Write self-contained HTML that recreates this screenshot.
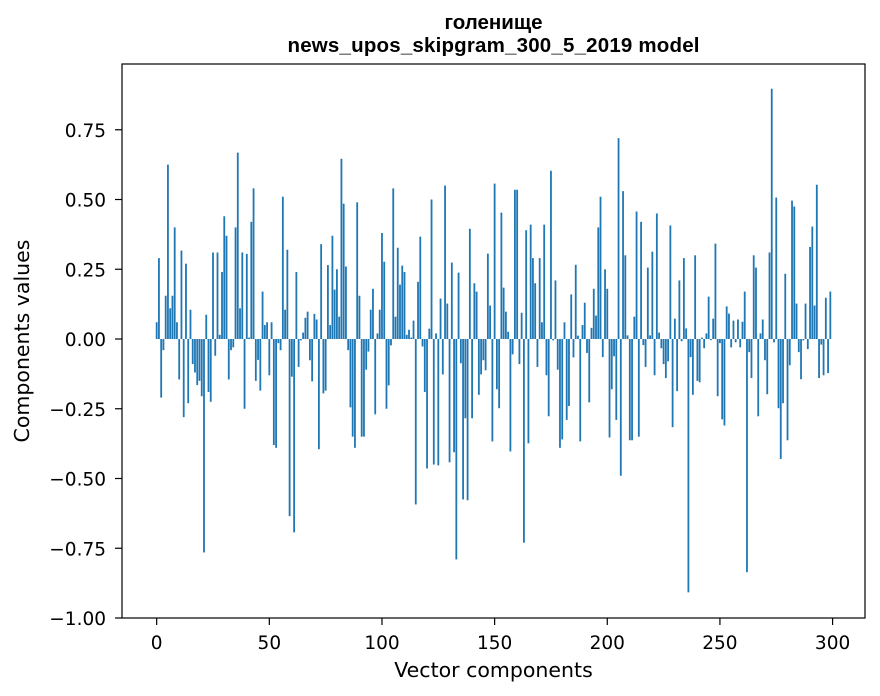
<!DOCTYPE html>
<html><head><meta charset="utf-8"><style>
html,body{margin:0;padding:0;background:#fff;}
svg{display:block;font-family:"DejaVu Sans","Liberation Sans",sans-serif;}
</style></head><body>
<svg id="chart" width="880" height="696" viewBox="0 0 880 696">
<rect x="0" y="0" width="880" height="696" fill="#fff"/>
<text x="493.5" y="29" text-anchor="middle" font-size="20.5" font-weight="bold" style="font-family:'Liberation Sans',sans-serif">голенище</text>
<text x="493.5" y="52" text-anchor="middle" font-size="20.5" font-weight="bold" style="font-family:'Liberation Sans',sans-serif" textLength="412">news_upos_skipgram_300_5_2019 model</text>
<g id="bars"></g>
<g id="xticks"></g>
<g id="yticks"></g>
<rect x="122" y="64" width="743" height="554" fill="none" stroke="#000" stroke-width="1.2"/>
<text x="493.5" y="677" text-anchor="middle" font-size="20.5">Vector components</text>
<text transform="translate(29,341) rotate(-90)" text-anchor="middle" font-size="20.5">Components values</text>
</svg>
<script>
const values = [
0.06,0.29,-0.21,-0.04,0.155,0.625,0.11,0.155,0.40,0.06,
-0.145,0.317,-0.28,0.27,-0.23,0.105,-0.09,-0.12,-0.165,-0.15,
-0.205,-0.765,0.087,-0.19,-0.225,0.31,-0.06,0.31,0.015,0.24,
0.44,0.37,-0.145,-0.04,-0.03,0.40,0.668,0.11,0.31,-0.25,
0.305,0.005,0.42,0.54,-0.15,-0.075,-0.185,0.17,0.05,0.06,
-0.13,0.06,-0.38,-0.39,-0.015,-0.04,0.51,0.105,0.32,-0.635,
-0.135,-0.693,0.24,-0.1,-0.005,0.023,0.076,0.098,-0.076,-0.152,
0.09,0.07,-0.395,0.34,-0.195,-0.185,0.265,0.05,0.37,0.177,
0.25,0.08,0.646,0.485,0.26,-0.04,-0.245,-0.35,-0.39,0.49,
0.155,-0.35,-0.35,-0.11,-0.045,0.105,0.18,-0.27,0.02,0.105,
0.38,0.277,-0.25,-0.166,-0.023,0.54,0.08,0.327,0.195,0.263,
0.24,0.015,0.033,0.005,0.066,-0.593,0.205,0.367,-0.027,-0.19,
-0.464,0.037,0.5,-0.45,0.02,-0.453,0.145,-0.127,0.55,0.127,
-0.442,0.274,-0.406,-0.79,0.238,-0.087,-0.575,-0.284,-0.578,0.395,
-0.284,0.2,0.17,-0.2,-0.127,-0.076,-0.112,0.306,0.12,-0.367,
0.557,-0.18,-0.248,0.453,0.184,0.098,0.026,-0.403,-0.055,0.535,
0.535,-0.09,0.094,-0.73,0.39,-0.374,0.41,0.29,0.2,-0.1,
0.29,0.06,0.41,-0.13,-0.277,0.603,-0.005,0.21,-0.11,-0.39,
-0.36,0.06,-0.29,-0.24,0.16,-0.066,0.266,0.012,-0.367,0.05,
0.13,-0.05,-0.227,0.04,0.18,0.084,0.4,0.51,-0.065,0.25,
0.18,-0.353,-0.18,-0.062,-0.29,0.72,-0.49,0.53,0.30,0.013,
-0.363,-0.363,0.08,0.457,-0.35,0.42,-0.022,-0.1,0.256,0.013,
0.313,-0.13,0.45,0.023,-0.033,-0.09,-0.14,-0.08,0.407,-0.316,
0.073,-0.187,0.21,-0.008,0.29,0.038,-0.908,-0.065,-0.2,0.30,
-0.15,-0.155,0.005,-0.033,0.02,0.152,-0.004,0.073,0.342,-0.205,
-0.015,-0.288,-0.31,0.117,0.091,-0.03,0.066,-0.012,0.07,-0.03,
0.062,0.17,-0.836,-0.047,-0.14,0.3,0.256,-0.277,0.02,0.07,
-0.076,-0.198,0.31,0.897,-0.012,0.507,-0.248,-0.43,-0.23,0.234,
-0.363,-0.094,0.496,0.475,0.127,-0.047,-0.144,-0.005,0.127,-0.036,
0.33,0.403,0.12,0.553,-0.14,-0.02,-0.13,0.148,-0.122,0.17
];
const xTickValues = [0,50,100,150,200,250,300];
const yTickValues = [-1.0,-0.75,-0.5,-0.25,0,0.25,0.5,0.75];
const yTickLabels = ["\u22121.00","\u22120.75","\u22120.50","\u22120.25","0.00","0.25","0.50","0.75"];

const NS = "http://www.w3.org/2000/svg";
const L = 122, R = 865, T = 64, B = 618;
const xMin = -15.39, xMax = 314.39, yMin = -1.0, yMax = 0.9857;
function xs(v){ return L + (v - xMin) / (xMax - xMin) * (R - L); }
function ys(v){ return B - (v - yMin) / (yMax - yMin) * (B - T); }

const barsG = document.getElementById('bars');
values.forEach(function(v, i){
  const r = document.createElementNS(NS, 'rect');
  const x0 = xs(i - 0.4), x1 = xs(i + 0.4);
  const y0 = ys(Math.max(v, 0)), y1 = ys(Math.min(v, 0));
  r.setAttribute('x', x0);
  r.setAttribute('y', y0);
  r.setAttribute('width', x1 - x0);
  r.setAttribute('height', Math.max(y1 - y0, 0.3));
  r.setAttribute('fill', '#1f77b4');
  
  
  barsG.appendChild(r);
});

const xg = document.getElementById('xticks');
xTickValues.forEach(function(v){
  const x = xs(v);
  const ln = document.createElementNS(NS, 'line');
  ln.setAttribute('x1', x); ln.setAttribute('x2', x);
  ln.setAttribute('y1', B); ln.setAttribute('y2', B + 7);
  ln.setAttribute('stroke', '#000'); ln.setAttribute('stroke-width', '1.2');
  
  
  xg.appendChild(ln);
  const t = document.createElementNS(NS, 'text');
  t.setAttribute('x', x); t.setAttribute('y', B + 31);
  t.setAttribute('text-anchor', 'middle'); t.setAttribute('font-size', '18.5');
  t.textContent = String(v);
  
  
  xg.appendChild(t);
});

const yg = document.getElementById('yticks');
yTickValues.forEach(function(v, i){
  const y = ys(v);
  const ln = document.createElementNS(NS, 'line');
  ln.setAttribute('x1', L - 7); ln.setAttribute('x2', L);
  ln.setAttribute('y1', y); ln.setAttribute('y2', y);
  ln.setAttribute('stroke', '#000'); ln.setAttribute('stroke-width', '1.2');
  
  
  yg.appendChild(ln);
  const t = document.createElementNS(NS, 'text');
  t.setAttribute('x', L - 16); t.setAttribute('y', y + 7);
  t.setAttribute('text-anchor', 'end'); t.setAttribute('font-size', '18.5');
  t.textContent = yTickLabels[i];
  
  
  yg.appendChild(t);
});
</script>
</body></html>
